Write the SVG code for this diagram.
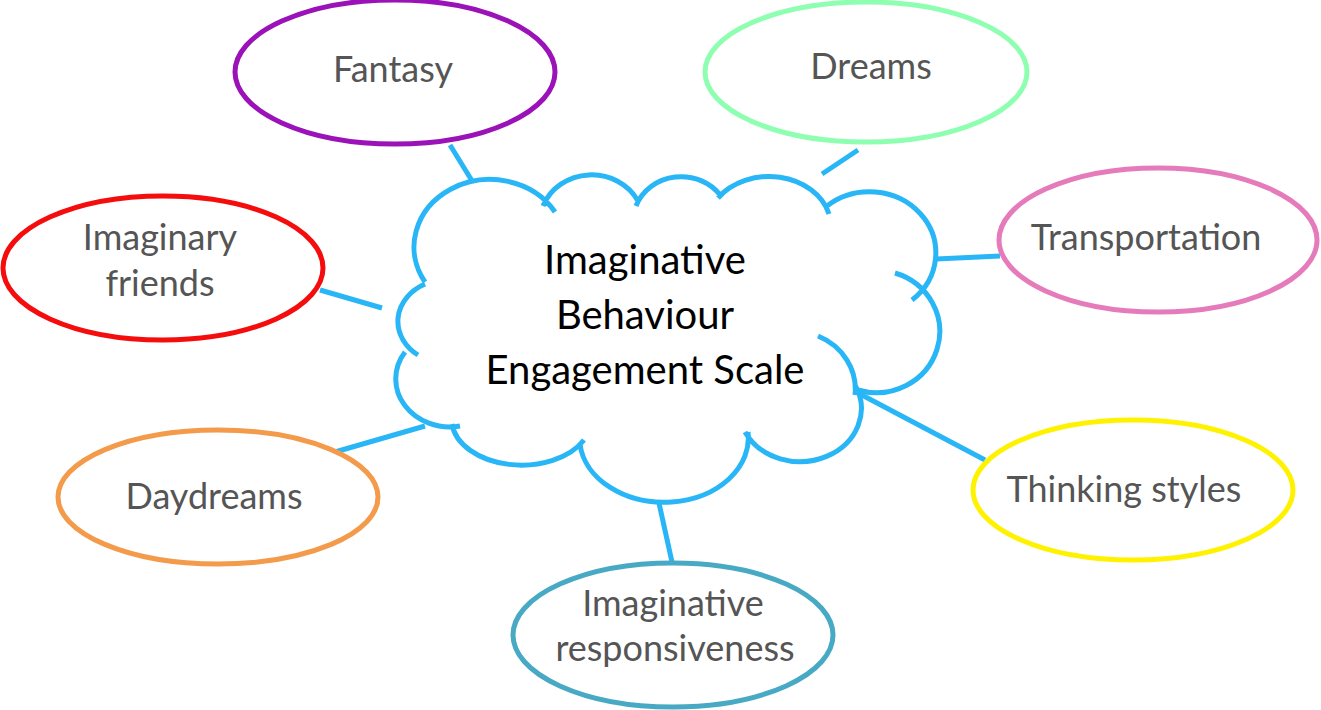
<svg xmlns="http://www.w3.org/2000/svg" width="1321" height="710" viewBox="0 0 1321 710">
<style>
.n{fill:#fff;stroke-width:5}
.t{font-family:Lato,"Noto Sans",sans-serif;font-size:36px;fill:#555;text-anchor:middle}
.c{stroke:#29b6f6;stroke-width:5;fill:none;stroke-linecap:butt}
</style>
<rect width="1321" height="710" fill="#fff"/>
<g id="connectors" class="c">
<line x1="450" y1="145" x2="485" y2="202"/>
<line x1="858" y1="150" x2="822" y2="174"/>
<line x1="915" y1="260" x2="1000" y2="256"/>
<line x1="860" y1="394" x2="985" y2="460"/>
<line x1="655" y1="485" x2="672" y2="562"/>
<line x1="335" y1="452" x2="425" y2="426"/>
<line x1="320" y1="290" x2="382" y2="308"/>
</g>
<g id="center">
<path d="M425,282 A72,64 0 0 1 555,212 M543,206 A52,48 0 0 1 638,201 M636,206 A48,44 0 0 1 721,196 M718,198 A62,50 0 0 1 829,214 M827,206 A52,48 0 0 1 912,300 M895,273 A60,58 0 0 1 858,390 M818,336 A62,58 0 0 1 855,395 M855,385 A60,52 0 0 1 745,432 M748,432 A84,64 0 0 1 580,444 M584,440 A70,46 0 0 1 452,424 M460,426 A54,48 0 0 1 405,352 M418,355 A50,42 0 0 1 425,284" fill="#fff" stroke="#29b6f6" stroke-width="5"/>
<g font-family="Lato,'Noto Sans',sans-serif" font-size="40" fill="#000" text-anchor="middle">
<text x="645" y="274">Imaginative</text>
<text x="645" y="329">Behaviour</text>
<text x="645" y="384">Engagement Scale</text>
</g>
</g>
<g id="fantasy"><ellipse class="n" cx="395" cy="72" rx="160" ry="72" stroke="#9b12b9"/><text class="t" x="393" y="82">Fantasy</text></g>
<g id="dreams"><ellipse class="n" cx="866" cy="72" rx="161" ry="70" stroke="#8effb0"/><text class="t" x="871" y="79">Dreams</text></g>
<g id="transportation"><ellipse class="n" cx="1158" cy="240" rx="159" ry="72" stroke="#e57bbb"/><text class="t" x="1146" y="250">Transportation</text></g>
<g id="friends"><ellipse class="n" cx="163" cy="268" rx="160" ry="72" stroke="#f50d0d"/><text class="t" x="160" y="250">Imaginary</text><text class="t" x="160" y="296">friends</text></g>
<g id="daydreams"><ellipse class="n" cx="218" cy="497" rx="160" ry="67" stroke="#f39a4b"/><text class="t" x="214" y="509">Daydreams</text></g>
<g id="thinking"><ellipse class="n" cx="1133" cy="490" rx="160" ry="70" stroke="#fff200"/><text class="t" x="1124" y="502">Thinking styles</text></g>
<g id="responsiveness"><ellipse class="n" cx="673" cy="635" rx="160" ry="72" stroke="#48a9c5"/><text class="t" x="673" y="616">Imaginative</text><text class="t" x="675" y="661">responsiveness</text></g>
</svg>
